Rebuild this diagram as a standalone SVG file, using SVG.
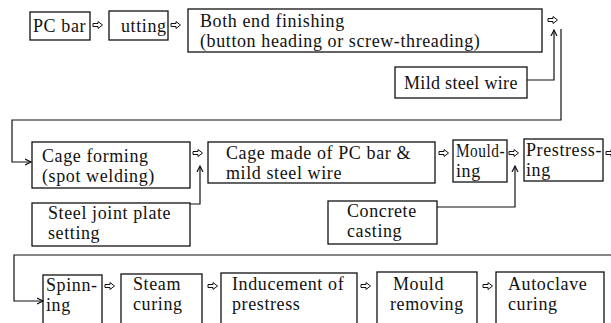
<svg xmlns="http://www.w3.org/2000/svg" width="611" height="323" viewBox="0 0 611 323">
<style>
.box{fill:none;stroke:#111;stroke-width:1.3}
text{font-family:"Liberation Serif","Times New Roman",serif;font-size:18px;letter-spacing:0.6px;fill:#111}
.con{fill:none;stroke:#111;stroke-width:1.2}
.ha{fill:#fff;stroke:#111;stroke-width:1}
</style>
<defs>
<symbol id="harrow" overflow="visible"><path class="ha" d="M0,-1.5 H5 V-3.5 L9.5,0 L5,3.5 V1.5 H0 Z"/></symbol>
<marker id="ah" markerWidth="8" markerHeight="8" refX="6" refY="4" orient="auto" markerUnits="userSpaceOnUse"><path d="M0,1 L6,4 L0,7" fill="none" stroke="#111" stroke-width="1.2"/></marker>
</defs>
<g id="pcbar"><rect class="box" x="30" y="12" width="60" height="28"/><text x="33" y="32">PC bar</text></g>
<g id="cutting"><rect class="box" x="109" y="11" width="59" height="29"/><text x="121" y="32">utting</text></g>
<g id="endfinish"><rect class="box" x="188" y="9" width="354" height="43"/><text x="200" y="27">Both end finishing</text><text x="200" y="47">(button heading or  screw-threading)</text></g>
<g id="mildwire"><rect class="box" x="395" y="67" width="132" height="31"/><text x="404" y="89" textLength="114">Mild steel wire</text></g>
<g id="cageforming"><rect class="box" x="32" y="142" width="158" height="46"/><text x="42" y="162">Cage forming</text><text x="42" y="182">(spot welding)</text></g>
<g id="cagemade"><rect class="box" x="208" y="142" width="227" height="41"/><text x="226" y="159">Cage made of PC bar &amp;</text><text x="226" y="179">mild steel wire</text></g>
<g id="moulding"><rect class="box" x="453" y="140" width="54" height="42"/><text x="456" y="157" textLength="49" lengthAdjust="spacingAndGlyphs">Mould-</text><text x="456" y="177">ing</text></g>
<g id="prestressing"><rect class="box" x="524" y="139" width="79" height="42"/><text x="526" y="156" textLength="76" lengthAdjust="spacingAndGlyphs">Prestress-</text><text x="526" y="176">ing</text></g>
<g id="steeljoint"><rect class="box" x="32" y="203" width="158" height="43"/><text x="48" y="219">Steel joint plate</text><text x="48" y="239">setting</text></g>
<g id="concrete"><rect class="box" x="328" y="201" width="109" height="43"/><text x="347" y="217">Concrete</text><text x="347" y="237">casting</text></g>
<g id="spinning"><rect class="box" x="43" y="275" width="59" height="60"/><text x="46" y="291">Spinn-</text><text x="46" y="311">ing</text></g>
<g id="steamcuring"><rect class="box" x="121" y="274" width="81" height="60"/><text x="133" y="290">Steam</text><text x="133" y="310">curing</text></g>
<g id="inducement"><rect class="box" x="221" y="273" width="136" height="60"/><text x="232" y="290">Inducement of</text><text x="232" y="310">prestress</text></g>
<g id="mouldremoving"><rect class="box" x="377" y="272" width="100" height="60"/><text x="393" y="290">Mould</text><text x="390" y="310">removing</text></g>
<g id="autoclave"><rect class="box" x="496" y="272" width="108" height="60"/><text x="508" y="290">Autoclave</text><text x="508" y="310">curing</text></g>
<g id="connectors">
<use href="#harrow" x="93" y="25"/>
<use href="#harrow" x="171" y="25"/>
<use href="#harrow" x="548" y="20"/>
<use href="#harrow" x="193" y="153"/>
<use href="#harrow" x="439" y="153"/>
<use href="#harrow" x="509" y="153"/>
<use href="#harrow" x="606" y="153"/>
<use href="#harrow" x="105" y="286"/>
<use href="#harrow" x="208" y="286"/>
<use href="#harrow" x="361" y="286"/>
<use href="#harrow" x="483" y="286"/>
<path class="con" d="M527,80 H554 V30" marker-end="url(#ah)"/>
<path class="con" d="M561,29 V120 H12 V162 H31" marker-end="url(#ah)"/>
<path class="con" d="M190,204 H200 V166" marker-end="url(#ah)"/>
<path class="con" d="M437,207 H515 V166" marker-end="url(#ah)"/>
<path class="con" d="M611,255 H14 V301 H43" marker-end="url(#ah)"/>
</g>
</svg>
